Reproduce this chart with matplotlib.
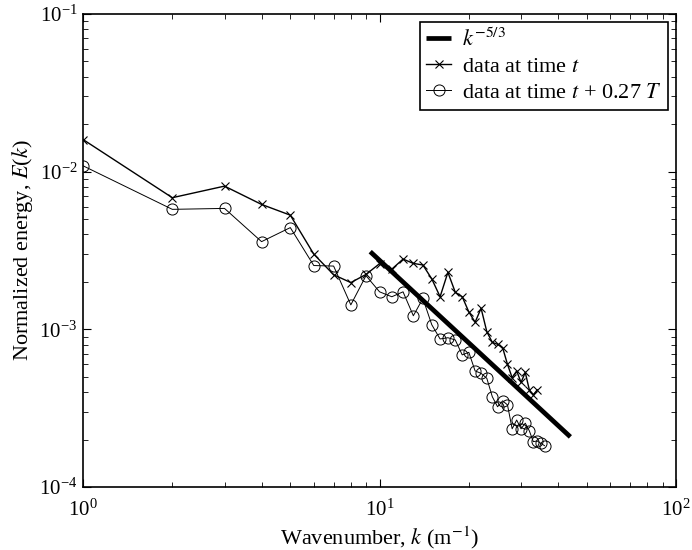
import numpy as np
import matplotlib
matplotlib.use('Agg')
import matplotlib.pyplot as plt

plt.rcParams['font.family'] = 'Liberation Serif'
plt.rcParams['mathtext.fontset'] = 'stix'

#============ data ============
k_t = [1, 2, 3, 4, 5, 6, 7, 8, 9, 10, 11, 12, 13, 14, 15, 16, 17, 18, 19, 20,
       21, 22, 23, 24, 25, 26, 27, 28, 29, 30, 31, 32, 33, 34]
E_t = [0.0160, 0.00684, 0.0081, 0.0062, 0.0053, 0.00300, 0.00222, 0.00198, 0.00223, 0.00261,
       0.00241, 0.00279, 0.00262, 0.00256, 0.00209, 0.00161, 0.00230, 0.00172, 0.00161, 0.00129,
       0.00111, 0.00136, 0.000966, 0.000827, 0.000804, 0.000766, 0.000600, 0.000494, 0.000545, 0.000461,
       0.000533, 0.000413, 0.000384, 0.000413]

k_t2 = [1, 2, 3, 4, 5, 6, 7, 8, 9, 10, 11, 12, 13, 14, 15, 16, 17, 18, 19, 20,
        21, 22, 23, 24, 25, 26, 27, 28, 29, 30, 31, 32, 33, 34, 35, 36]
E_t2 = [0.0109, 0.00577, 0.00585, 0.00360, 0.00442, 0.00254, 0.00252, 0.00143, 0.00219, 0.00173,
        0.00161, 0.00173, 0.00122, 0.00157, 0.00107, 0.000869, 0.000885, 0.000857, 0.000689, 0.000715,
        0.000545, 0.000526, 0.000489, 0.000374, 0.000323, 0.000352, 0.000332, 0.000234, 0.000266, 0.000234,
        0.000254, 0.000227, 0.000194, 0.000196, 0.000189, 0.000183]

# reference slope line (end points)
k_ref = [9.3, 44.0]
E_ref = [0.00311, 0.000208]

#============ PLOT ============
fig = plt.figure(figsize=(6.92, 5.5), dpi=100)
ax = fig.add_axes([0.12, 0.1145, 0.857, 0.86])

ax.plot(k_ref, E_ref, 'k-', lw=3.4, solid_capstyle='butt', label=r'$k^{-5/3}$')
ax.plot(k_t, E_t, 'k-', marker='x', ms=5.5, mew=0.8, lw=1.0, label=r'data at time $t$')
ax.plot(k_t2, E_t2, 'k-', marker='o', ms=8, mfc='none', mew=0.7, lw=0.7,
        label=r'data at time $t$ + 0.27 $T$')

ax.set_xscale('log')
ax.set_yscale('log')
ax.set_xlim(1, 100)
ax.set_ylim(1e-4, 1e-1)

ax.tick_params(which='both', direction='in', top=True, right=True, labelsize=15)
ax.tick_params(which='major', length=6)
ax.tick_params(which='minor', length=3.5)
ax.tick_params(axis='x', which='both', pad=9)
ax.tick_params(axis='y', which='both', pad=4)
for s in ax.spines.values():
    s.set_linewidth(1.2)

ax.set_xlabel(r'Wavenumber, $k$ (m$^{-1}$)', fontsize=16, labelpad=3)
ax.set_ylabel(r'Normalized energy, $E$($k$)', fontsize=16, labelpad=3)

leg = ax.legend(loc='upper right', fontsize=16, fancybox=False, framealpha=1,
                edgecolor='k', handlelength=1.1, borderaxespad=0.35, labelspacing=0.25,
                handletextpad=0.5, borderpad=0.3)
leg.get_frame().set_linewidth(1.2)

fig.savefig('out.png', dpi=100)
